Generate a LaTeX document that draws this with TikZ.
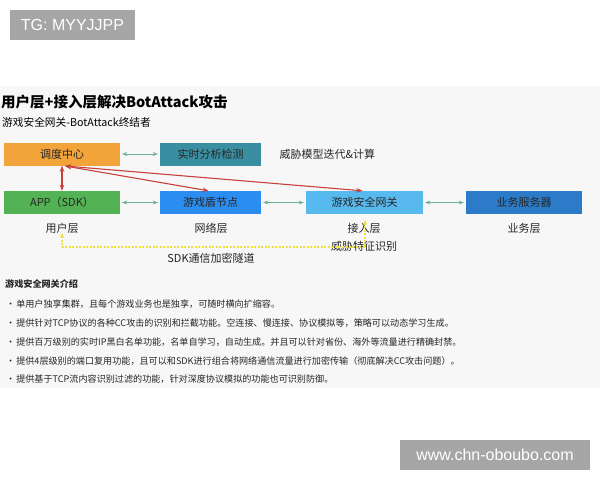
\documentclass[tikz,border=0pt]{standalone}
\usepackage{fontspec}
\setmainfont{Noto Sans CJK SC}
\newfontfamily\wmfont{Liberation Sans}
\usetikzlibrary{arrows.meta}
\definecolor{dispatchorange}{HTML}{F2A33A}
\definecolor{analysisteal}{HTML}{3A8EA2}
\definecolor{appgreen}{HTML}{52B254}
\definecolor{shieldblue}{HTML}{2C8DF0}
\definecolor{gatewayblue}{HTML}{58B9EE}
\definecolor{serverblue}{HTML}{2B7BC9}
\definecolor{linkgreen}{HTML}{6FAE94}
\definecolor{ctrlred}{HTML}{C8403C}
\definecolor{tunnelyellow}{HTML}{EDE33C}

\begin{document}
\begin{tikzpicture}[x=1pt,y=-1pt,
    box/.style={minimum height=23pt,inner sep=0pt,font=\fontsize{11}{13}\selectfont,text=black!85},
    layer/.style={font=\fontsize{11}{13}\selectfont,text=black!85},
    item/.style={anchor=west,inner sep=0pt,font=\fontsize{9.1}{11}\selectfont,text=black!85},
    link/.style={{Stealth[length=5pt,width=4pt]}-{Stealth[length=5pt,width=4pt]},draw=linkgreen,line width=0.9pt,shorten <=2pt,shorten >=2pt},
    ctrl/.style={{Stealth[length=6pt,width=4.5pt]}-{Stealth[length=6pt,width=4.5pt]},draw=ctrlred,line width=1.1pt},
    tunnel/.style={{Stealth[length=5pt,width=4.5pt]}-{Stealth[length=5pt,width=4.5pt]},draw=tunnelyellow,dash pattern=on 2pt off 1.5pt,line width=1.1pt},
    wm/.style={fill=black!35,text=white,inner sep=0pt,minimum height=30pt,font=\wmfont\fontsize{16}{18}\selectfont}]

    \useasboundingbox (0,0) rectangle (600,480);
    \fill[black!3] (0,86) rectangle (600,388);

    \node[wm,minimum width=125pt] (tg) at (72.5,25) {TG: MYYJJPP};
    \node[wm,minimum width=190pt] (site) at (495,455) {www.chn-oboubo.com};

    \node[anchor=west,inner sep=0pt,font=\fontsize{14.5}{16}\selectfont\bfseries] (title) at (1,102) {用户层+接入层解决BotAttack攻击};
    \node[anchor=west,inner sep=0pt,font=\fontsize{10.7}{12}\selectfont] (subtitle) at (2,122) {游戏安全网关-BotAttack终结者};

    \node[box,fill=dispatchorange,minimum width=116pt] (dispatch) at (62,154) {调度中心};
    \node[box,fill=analysisteal,minimum width=101pt] (analysis) at (210.5,154) {实时分析检测};
    \node[layer,anchor=west] (model) at (276,154) {威胁模型迭代\&计算};
    \node[box,fill=appgreen,minimum width=116pt] (app) at (62,202.5) {APP（SDK）};
    \node[box,fill=shieldblue,minimum width=101pt] (shield) at (210.5,202.5) {游戏盾节点};
    \node[box,fill=gatewayblue,minimum width=117pt] (gateway) at (364.5,202.5) {游戏安全网关};
    \node[box,fill=serverblue,minimum width=116pt] (server) at (524,202.5) {业务服务器};

    \node[layer] (user) at (62,228) {用户层};
    \node[layer] (network) at (211,228) {网络层};
    \node[layer] (access) at (364,228) {接入层};
    \node[layer] (business) at (524,228) {业务层};
    \node[layer] (feature) at (364,246) {威胁特征识别};
    \node[layer] (sdktunnel) at (211,258) {SDK通信加密隧道};

    \coordinate (hub) at (65,166);
    \coordinate (tunnelL) at (62,233);
    \coordinate (tunnelR) at (365,220);

    \draw[link] (dispatch) -- (analysis);
    \draw[link] (app) -- (shield);
    \draw[link] (shield) -- (gateway);
    \draw[link] (gateway) -- (server);
    \draw[ctrl] (dispatch.south) -- (app.north);
    \draw[ctrl] (hub) -- ([xshift=-2pt]shield.north);
    \draw[ctrl] (hub) -- ([xshift=-2pt]gateway.north);
    \draw[tunnel] (tunnelL) -- ++(0,14) -| (tunnelR);

    \node[item,font=\fontsize{9.1}{11}\selectfont\bfseries] (intro) at (5,284) {游戏安全网关介绍};
    \node[item] (b1) at (6,304) {•\hspace{1pt}单用户独享集群，且每个游戏业务也是独享，可随时横向扩缩容。};
    \node[item] (b2) at (6,323) {•\hspace{1pt}提供针对TCP协议的各种CC攻击的识别和拦截功能。空连接、慢连接、协议模拟等，策略可以动态学习生成。};
    \node[item] (b3) at (6,342) {•\hspace{1pt}提供百万级别的实时IP黑白名单功能，名单自学习，自动生成。并且可以针对省份、海外等流量进行精确封禁。};
    \node[item] (b4) at (6,361) {•\hspace{1pt}提供4层级别的端口复用功能，且可以和SDK进行组合将网络通信流量进行加密传输（彻底解决CC攻击问题）。};
    \node[item] (b5) at (6,379) {•\hspace{1pt}提供基于TCP流内容识别过滤的功能，针对深度协议模拟的功能也可识别防御。};
\end{tikzpicture}
\end{document}
